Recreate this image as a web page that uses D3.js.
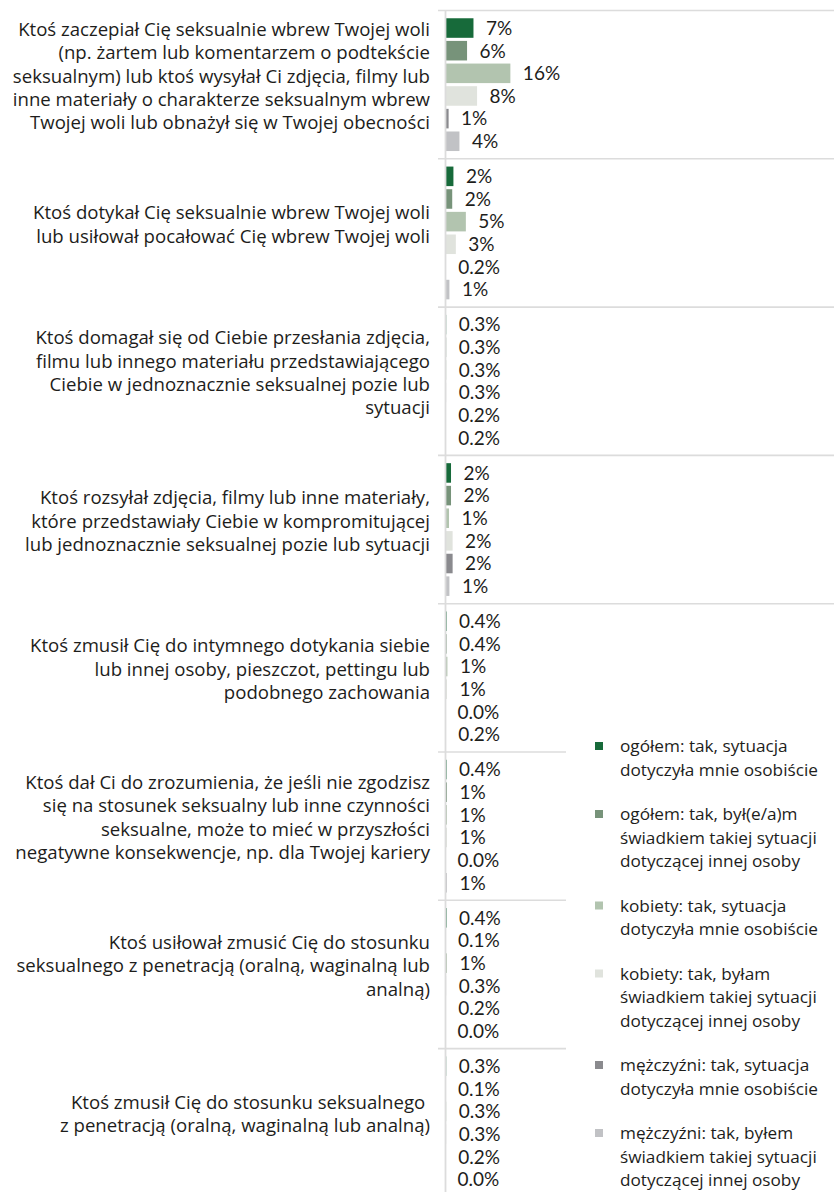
<!DOCTYPE html>
<html>
<head>
<meta charset="utf-8">
<script src="https://cdn.jsdelivr.net/npm/d3@7"></script>
<style>
  html, body { margin: 0; padding: 0; background: #fff; }
  svg { display: block; }
  text { white-space: pre; }
</style>
</head>
<body>
<div id="chart"></div>
<script>
// ---------- DATA ----------
const categories = [
  ["Ktoś zaczepiał Cię seksualnie wbrew Twojej woli", "(np. żartem lub komentarzem o podtekście", "seksualnym) lub ktoś wysyłał Ci zdjęcia, filmy lub", "inne materiały o charakterze seksualnym wbrew", "Twojej woli lub obnażył się w Twojej obecności"],
  ["Ktoś dotykał Cię seksualnie wbrew Twojej woli", "lub usiłował pocałować Cię wbrew Twojej woli"],
  ["Ktoś domagał się od Ciebie przesłania zdjęcia,", "filmu lub innego materiału przedstawiającego", "Ciebie w jednoznacznie seksualnej pozie lub", "sytuacji"],
  ["Ktoś rozsyłał zdjęcia, filmy lub inne materiały,", "które przedstawiały Ciebie w kompromitującej", "lub jednoznacznie seksualnej pozie lub sytuacji"],
  ["Ktoś zmusił Cię do intymnego dotykania siebie", "lub innej osoby, pieszczot, pettingu lub", "podobnego zachowania"],
  ["Ktoś dał Ci do zrozumienia, że jeśli nie zgodzisz", "się na stosunek seksualny lub inne czynności", "seksualne, może to mieć w przyszłości", "negatywne konsekwencje, np. dla Twojej kariery"],
  ["Ktoś usiłował zmusić Cię do stosunku", "seksualnego z penetracją (oralną, waginalną lub", "analną)"],
  ["Ktoś zmusił Cię do stosunku seksualnego ", "z penetracją (oralną, waginalną lub analną)"]
];

const seriesNames = [
  ["ogółem: tak, sytuacja", "dotyczyła mnie osobiście"],
  ["ogółem: tak, był(e/a)m", "świadkiem takiej sytuacji", "dotyczącej innej osoby"],
  ["kobiety: tak, sytuacja", "dotyczyła mnie osobiście"],
  ["kobiety: tak, byłam", "świadkiem takiej sytuacji", "dotyczącej innej osoby"],
  ["mężczyźni: tak, sytuacja", "dotyczyła mnie osobiście"],
  ["mężczyźni: tak, byłem", "świadkiem takiej sytuacji", "dotyczącej innej osoby"]
];

const seriesColors = ["#176a3a", "#77937a", "#b2c4af", "#e0e3dd", "#8a8a8e", "#c1c2c5"];

// values (percent) per category, one per series (bar lengths)
const values = [
  [7.1, 5.5, 16.3, 8.0, 0.9, 3.6],
  [2.1, 1.8, 5.2, 2.7, 0.2, 1.1],
  [0.3, 0.3, 0.3, 0.3, 0.2, 0.2],
  [1.5, 1.5, 1.0, 1.9, 1.9, 1.1],
  [0.4, 0.4, 0.6, 0.5, 0.0, 0.2],
  [0.4, 0.5, 0.5, 0.5, 0.0, 0.5],
  [0.4, 0.1, 0.5, 0.3, 0.2, 0.0],
  [0.3, 0.1, 0.3, 0.3, 0.2, 0.0]
];

// printed data labels
const valueLabels = [
  ["7%", "6%", "16%", "8%", "1%", "4%"],
  ["2%", "2%", "5%", "3%", "0.2%", "1%"],
  ["0.3%", "0.3%", "0.3%", "0.3%", "0.2%", "0.2%"],
  ["2%", "2%", "1%", "2%", "2%", "1%"],
  ["0.4%", "0.4%", "1%", "1%", "0.0%", "0.2%"],
  ["0.4%", "1%", "1%", "1%", "0.0%", "1%"],
  ["0.4%", "0.1%", "1%", "0.3%", "0.2%", "0.0%"],
  ["0.3%", "0.1%", "0.3%", "0.3%", "0.2%", "0.0%"]
];

// ---------- LAYOUT ----------
const W = 834, H = 1192;
const axisX = 445.5;
const barX0 = 445;
const textColor = "#1d1d1b";
const gridColor = "#dcdcdc";

const svg = d3.select("#chart").append("svg")
  .attr("width", W).attr("height", H);

const catIdx = d3.range(categories.length);
const y0 = d3.scaleBand().domain(catIdx).range([10.5, 10.5 + 148.3 * categories.length]);
const y1 = d3.scaleBand().domain(d3.range(seriesNames.length))
  .range([0, y0.bandwidth()]).paddingInner(0.137).paddingOuter(0.343);
const x = d3.scaleLinear().domain([0, 100]).range([barX0, barX0 + 401]);

// separators (category boundaries)
const bounds = catIdx.map(i => y0(i));
svg.append("g").selectAll("line").data(bounds).join("line")
  .attr("x1", 438).attr("x2", W)
  .attr("y1", d => d).attr("y2", d => d)
  .attr("stroke", gridColor).attr("stroke-width", 1.6);

// groups
const groups = svg.append("g").selectAll("g").data(catIdx).join("g")
  .attr("transform", i => `translate(0,${y0(i)})`);

groups.selectAll("rect").data(i => values[i].map((v, s) => ({v, s})))
  .join("rect")
  .attr("x", barX0)
  .attr("y", d => y1(d.s))
  .attr("width", d => x(d.v) - x(0))
  .attr("height", y1.bandwidth())
  .attr("fill", d => seriesColors[d.s]);

groups.selectAll("text.val").data(i => values[i].map((v, s) => ({v, s, t: valueLabels[i][s]})))
  .join("text").attr("class", "val")
  .attr("x", d => x(d.v) + 12.5)
  .attr("y", d => y1(d.s) + y1.bandwidth() / 2)
  .attr("dy", "0.36em")
  .attr("font-family", "Lato, 'Liberation Sans', sans-serif")
  .attr("font-size", 19)
  .attr("fill", textColor)
  .text(d => d.t);

// vertical axis line (drawn over the bar roots)
svg.append("line")
  .attr("x1", axisX).attr("x2", axisX)
  .attr("y1", y0.range()[0]).attr("y2", H)
  .attr("stroke", gridColor).attr("stroke-width", 1.8);

// category labels
const catLH = 23.4;
groups.append("text")
  .attr("text-anchor", "end")
  .attr("font-family", "'Open Sans', 'Noto Sans', sans-serif")
  .attr("font-size", 18.6)
  .attr("fill", textColor)
  .each(function(i) {
    const lines = categories[i];
    const mid = y0.bandwidth() / 2 - 2;
    const first = mid - (lines.length - 1) * catLH / 2;
    d3.select(this).selectAll("tspan").data(lines).join("tspan")
      .attr("x", 430)
      .attr("y", (l, k) => first + k * catLH)
      .text(l => l);
  });

// legend
const leg = svg.append("g");
leg.append("rect").attr("x", 566).attr("y", 720).attr("width", W - 566).attr("height", H - 720)
  .attr("fill", "#fff");
const legLH = 23.5, legGap = 21;
let base = 752;
seriesNames.forEach((lines, s) => {
  const g = leg.append("g");
  g.append("rect").attr("x", 595).attr("y", base - 10).attr("width", 8).attr("height", 8)
    .attr("fill", seriesColors[s]);
  const t = g.append("text")
    .attr("font-family", "'Open Sans', 'Noto Sans', sans-serif")
    .attr("font-size", 17.2)
    .attr("fill", textColor);
  lines.forEach((l, k) => {
    t.append("tspan").attr("x", 620).attr("y", base + k * legLH).text(l);
  });
  base += lines.length * legLH + legGap;
});
</script>
</body>
</html>
